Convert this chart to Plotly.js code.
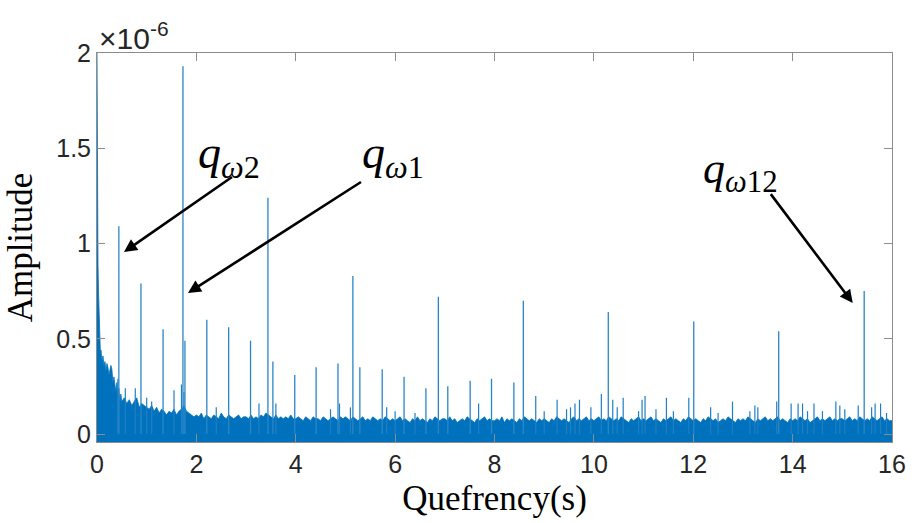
<!DOCTYPE html>
<html>
<head>
<meta charset="utf-8">
<script src="https://cdn.plot.ly/plotly-3.0.1.min.js"></script>
<style>html,body{margin:0;padding:0;background:#fff;}#chart{width:912px;height:523px;}</style>
</head>
<body>
<div id="chart"></div>
<script>
// Amplitudes in units of 1e-6 (axis shows the ×10^-6 multiplier)
// Head of the cepstrum (fine sampling near zero quefrency)
var headQ = [0, 0.004, 0.008, 0.012, 0.02, 0.03, 0.04, 0.05, 0.06, 0.07, 0.08, 0.09, 0.10, 0.12, 0.14, 0.16, 0.18, 0.20, 0.22, 0.24, 0.26, 0.28, 0.30, 0.32, 0.34, 0.36, 0.38, 0.40, 0.42, 0.44, 0.46, 0.48];
var headAmp = [2.0, 1.47, 1.20, 1.05, 0.89, 0.75, 0.64, 0.55, 0.43, 0.41, 0.44, 0.40, 0.38, 0.41, 0.36, 0.38, 0.33, 0.37, 0.35, 0.31, 0.33, 0.36, 0.34, 0.27, 0.30, 0.25, 0.22, 0.27, 0.20, 0.24, 0.17, 0.21];

// Noise-floor upper envelope, sampled every 0.05 s from 0.5 s to 16 s
var bodyStart = 0.5, bodyStep = 0.05;
var bodyAmp = [
  0.17,0.19,0.16,0.18,0.15,0.17,0.19,0.14,0.16,0.15,
  0.14,0.13,0.15,0.12,0.14,0.11,0.13,0.12,0.10,0.12,0.11,0.13,0.10,0.12,0.13,0.15,0.12,0.11,0.10,0.09,
  0.10,0.09,0.11,0.08,0.10,0.09,0.08,0.10,0.09,0.08,0.11,0.09,0.08,0.10,0.09,0.08,0.09,0.10,0.08,0.09,
  0.09,0.08,0.10,0.08,0.09,0.08,0.10,0.09,0.11,0.10,0.09,0.08,0.10,0.08,0.09,0.08,0.09,0.08,0.10,0.08,
  0.08,0.09,0.08,0.07,0.09,0.08,0.07,0.09,0.08,0.08,0.07,0.09,0.08,0.07,0.08,0.09,0.08,0.07,0.09,0.08,
  0.09,0.08,0.07,0.09,0.08,0.07,0.08,0.09,0.07,0.08,0.07,0.09,0.08,0.07,0.08,0.07,0.09,0.08,0.07,0.08,
  0.07,0.08,0.09,0.07,0.08,0.07,0.06,0.08,0.07,0.09,0.07,0.08,0.07,0.06,0.08,0.07,0.09,0.08,0.07,0.08,
  0.08,0.07,0.09,0.07,0.08,0.06,0.07,0.08,0.07,0.09,0.08,0.07,0.06,0.08,0.07,0.08,0.09,0.07,0.08,0.07,
  0.07,0.08,0.07,0.09,0.06,0.08,0.07,0.08,0.07,0.06,0.08,0.07,0.09,0.08,0.07,0.08,0.07,0.06,0.08,0.07,
  0.08,0.07,0.06,0.08,0.07,0.09,0.08,0.07,0.08,0.07,0.06,0.08,0.09,0.07,0.08,0.07,0.08,0.09,0.07,0.08,
  0.07,0.08,0.09,0.07,0.08,0.07,0.09,0.08,0.07,0.08,0.07,0.09,0.08,0.07,0.06,0.08,0.07,0.08,0.09,0.07,
  0.08,0.07,0.08,0.09,0.07,0.08,0.07,0.06,0.08,0.07,0.08,0.09,0.07,0.08,0.07,0.06,0.08,0.07,0.09,0.08,
  0.07,0.08,0.07,0.06,0.08,0.07,0.09,0.08,0.07,0.08,0.06,0.07,0.08,0.07,0.09,0.08,0.07,0.06,0.08,0.07,
  0.08,0.07,0.09,0.08,0.07,0.06,0.08,0.07,0.08,0.09,0.07,0.08,0.07,0.08,0.09,0.07,0.08,0.07,0.06,0.08,
  0.07,0.08,0.07,0.09,0.08,0.07,0.08,0.06,0.07,0.08,0.09,0.07,0.08,0.07,0.08,0.09,0.07,0.08,0.07,0.08,
  0.08,0.07,0.08,0.09,0.07,0.08,0.07,0.09,0.08,0.07,0.08,0.07,0.09,0.08,0.07,0.08,0.09,0.07,0.08,0.07,
  0.07
];
// lower edge of the noise band (cepstrum dips slightly below zero)
var floorQ = [0, 16];
var floorAmp = [-0.045, -0.045];

// Main rahmonic peaks
var peakQ   = [0.44, 0.885, 1.33, 1.73, 1.77, 2.21, 2.65, 3.09, 3.44, 3.54, 3.98, 4.41, 4.85, 5.15, 5.29, 5.74, 6.18, 6.62, 6.87, 7.06, 7.51, 7.94, 8.39, 8.58, 10.29, 12.01, 13.72, 15.44];
var peakAmp = [1.09, 0.79, 0.55, 1.93, 0.49, 0.60, 0.56, 0.49, 1.24, 0.38, 0.31, 0.35, 0.37, 0.83, 0.35, 0.34, 0.30, 0.24, 0.72, 0.25, 0.28, 0.29, 0.27, 0.70, 0.64, 0.59, 0.54, 0.75];

// Minor spikes above the noise floor
var minorQ   = [0.42, 0.57, 0.77, 1.00, 1.10, 1.55, 1.70, 1.75, 2.40, 3.26, 3.60, 4.70, 4.88, 5.10, 5.83, 6.00, 6.40, 7.68, 8.83, 9.00, 9.26, 9.45, 9.53, 9.62, 9.71, 9.94, 10.15, 10.38, 10.47, 10.59, 10.90, 10.97, 11.03, 11.25, 11.46, 11.60, 11.91, 12.35, 12.50, 12.79, 13.14, 13.24, 13.30, 13.68, 13.97, 14.11, 14.20, 14.30, 14.43, 14.60, 14.87, 14.95, 15.05, 15.32, 15.59, 15.66, 15.77, 15.89];
var minorAmp = [0.29, 0.24, 0.24, 0.19, 0.17, 0.23, 0.26, 0.22, 0.14, 0.16, 0.16, 0.13, 0.16, 0.14, 0.14, 0.12, 0.11, 0.16, 0.20, 0.12, 0.18, 0.13, 0.14, 0.16, 0.18, 0.14, 0.21, 0.18, 0.14, 0.19, 0.12, 0.18, 0.20, 0.13, 0.19, 0.12, 0.19, 0.14, 0.11, 0.17, 0.12, 0.15, 0.14, 0.17, 0.16, 0.16, 0.16, 0.12, 0.16, 0.12, 0.17, 0.15, 0.13, 0.15, 0.14, 0.16, 0.16, 0.11];

var xTicks = [0, 2, 4, 6, 8, 10, 12, 14, 16];
var yTicks = [0, 0.5, 1, 1.5, 2];
var yTickText = ['0', '0.5', '1', '1.5', '2'];

// ---- build traces ----
var noiseQ = headQ.slice(), noiseAmp = headAmp.slice();
for (var i = 0; i < bodyAmp.length; i++) {
  noiseQ.push(+(bodyStart + i * bodyStep).toFixed(3));
  noiseAmp.push(bodyAmp[i]);
}
function stems(qs, amps) {
  var xs = [], ys = [];
  for (var k = 0; k < qs.length; k++) {
    xs.push(qs[k], qs[k], null);
    ys.push(0, amps[k], null);
  }
  return {x: xs, y: ys};
}
var blue = '#0072BD';
var main = stems(peakQ, peakAmp);
var minor = stems(minorQ, minorAmp);

var traces = [
  {x: floorQ, y: floorAmp, mode: 'lines', line: {width: 0, color: blue}, hoverinfo: 'skip', showlegend: false},
  {x: noiseQ, y: noiseAmp, mode: 'lines', fill: 'tonexty', fillcolor: blue, line: {width: 0.8, color: blue}, showlegend: false},
  {x: minor.x, y: minor.y, mode: 'lines', line: {width: 1.2, color: '#1f7fc4'}, showlegend: false},
  {x: main.x, y: main.y, mode: 'lines', line: {width: 1.3, color: '#2a86c6'}, showlegend: false}
];

var axisCommon = {
  showgrid: false, zeroline: false, showline: true, linecolor: '#8c8c8c', linewidth: 1,
  mirror: 'ticks', ticks: 'inside', ticklen: 8, tickcolor: '#8c8c8c', tickwidth: 1,
  tickfont: {family: 'Liberation Sans, Arial, sans-serif', size: 25, color: '#262626'}
};
var serif = 'Liberation Serif, Times New Roman, serif';
var arrowCommon = {showarrow: true, arrowhead: 2, arrowsize: 1, arrowwidth: 2.6, arrowcolor: '#000', text: ' ', xref: 'x', yref: 'y', axref: 'x', ayref: 'y'};

var layout = {
  width: 912, height: 523,
  margin: {l: 97, r: 20, t: 53, b: 81},
  paper_bgcolor: '#fff', plot_bgcolor: '#fff',
  showlegend: false,
  xaxis: Object.assign({}, axisCommon, {
    range: [0, 16], tickvals: xTicks,
    title: {text: 'Quefrency(s)', font: {family: serif, size: 35, color: '#000'}, standoff: 8}
  }),
  yaxis: Object.assign({}, axisCommon, {
    range: [-0.042, 2], tickvals: yTicks, ticktext: yTickText,
    title: {text: 'Amplitude', font: {family: serif, size: 35, color: '#000'}, standoff: 12}
  }),
  annotations: [
    {xref: 'paper', yref: 'paper', x: 0.0, y: 1.0, xanchor: 'left', yanchor: 'bottom', yshift: -4, xshift: 0, showarrow: false,
     text: '×10<sup>-6</sup>', font: {family: 'Liberation Sans, Arial, sans-serif', size: 30, color: '#262626'}},
    Object.assign({}, arrowCommon, {x: 0.543, y: 0.955, ax: 2.777, ay: 1.36}),
    Object.assign({}, arrowCommon, {x: 1.831, y: 0.74, ax: 5.373, ay: 1.333}),
    Object.assign({}, arrowCommon, {x: 15.21, y: 0.688, ax: 13.50, ay: 1.28}),
    {xref: 'x', yref: 'y', x: 2.0, y: 1.46, xanchor: 'left', yanchor: 'middle', showarrow: false,
     text: '<i>q</i><sub><i>ω</i>2</sub>', font: {family: serif, size: 46, color: '#000'}},
    {xref: 'x', yref: 'y', x: 5.3, y: 1.46, xanchor: 'left', yanchor: 'middle', showarrow: false,
     text: '<i>q</i><sub><i>ω</i>1</sub>', font: {family: serif, size: 46, color: '#000'}},
    {xref: 'x', yref: 'y', x: 12.15, y: 1.38, xanchor: 'left', yanchor: 'middle', showarrow: false,
     text: '<i>q</i><sub><i>ω</i>12</sub>', font: {family: serif, size: 44, color: '#000'}}
  ]
};

Plotly.newPlot('chart', traces, layout, {displayModeBar: false, staticPlot: true});
</script>
</body>
</html>
